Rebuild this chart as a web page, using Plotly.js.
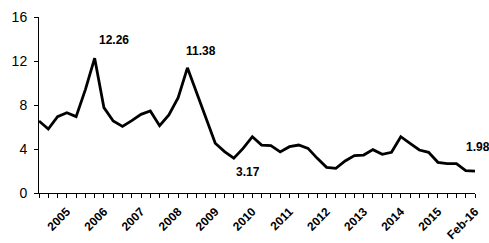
<!DOCTYPE html>
<html>
<head>
<meta charset="utf-8">
<script src="https://cdn.plot.ly/plotly-3.0.1.min.js"></script>
<style>html,body{margin:0;padding:0;background:#fff;}#chart{width:489px;height:243px;}</style>
</head>
<body>
<div id="chart"></div>
<script>
var categories = [
  "Q2-04","Q3-04","Q4-04",
  "Q1-05","Q2-05","Q3-05","Q4-05",
  "Q1-06","Q2-06","Q3-06","Q4-06",
  "Q1-07","Q2-07","Q3-07","Q4-07",
  "Q1-08","Q2-08","Q3-08","Q4-08",
  "Q1-09","Q2-09","Q3-09","Q4-09",
  "Q1-10","Q2-10","Q3-10","Q4-10",
  "Q1-11","Q2-11","Q3-11","Q4-11",
  "Q1-12","Q2-12","Q3-12","Q4-12",
  "Q1-13","Q2-13","Q3-13","Q4-13",
  "Q1-14","Q2-14","Q3-14","Q4-14",
  "Q1-15","Q2-15","Q3-15","Q4-15",
  "Feb-16"
];
var values = [
  6.55, 5.82, 6.94,
  7.30, 6.94, 9.40, 12.26,
  7.76, 6.55, 6.06, 6.58,
  7.15, 7.45, 6.12, 7.09,
  8.67, 11.38, 9.03, 6.70,
  4.52, 3.76, 3.17, 4.06,
  5.12, 4.36, 4.30, 3.73,
  4.21, 4.36, 4.06, 3.15,
  2.33, 2.24, 2.91, 3.40,
  3.45, 3.94, 3.52, 3.70,
  5.12, 4.52, 3.91, 3.70,
  2.79, 2.67, 2.67, 2.03,
  1.98
];
var tickLabels = {
  "Q1-05":"2005","Q1-06":"2006","Q1-07":"2007","Q1-08":"2008","Q1-09":"2009",
  "Q1-10":"2010","Q1-11":"2011","Q1-12":"2012","Q1-13":"2013","Q1-14":"2014",
  "Q1-15":"2015","Feb-16":"Feb-16"
};
var yTicks = [0, 4, 8, 12, 16];
var callouts = [
  {cat:"Q4-05", val:12.26, text:"12.26", dx:19, dy:18},
  {cat:"Q2-08", val:11.38, text:"11.38", dx:14, dy:17},
  {cat:"Q3-09", val:3.17, text:"3.17", dx:14, dy:-14},
  {cat:"Feb-16", val:1.98, text:"1.98", dx:3, dy:24}
];

var FONT = "Liberation Sans, Arial, sans-serif";
var ticktext = categories.map(function(c){ return tickLabels[c] || ""; });

var trace = {
  type: "scatter",
  mode: "lines",
  x: categories,
  y: values,
  line: {color: "#000000", width: 2.8},
  hoverinfo: "skip"
};

var layout = {
  width: 489, height: 243,
  margin: {l: 39, r: 14, t: 17, b: 50, pad: 0},
  paper_bgcolor: "#ffffff",
  plot_bgcolor: "#ffffff",
  showlegend: false,
  font: {family: FONT, color: "#000000"},
  xaxis: {
    type: "category",
    categoryorder: "array",
    categoryarray: categories,
    range: [0, categories.length - 1],
    tickmode: "array",
    tickvals: categories,
    ticktext: ticktext,
    tickangle: -45,
    tickfont: {family: FONT, size: 12, color: "#000000", weight: "bold"},
    ticklabelstandoff: 2,
    ticks: "outside",
    ticklen: 4,
    tickwidth: 1,
    tickcolor: "#000000",
    showline: true,
    linecolor: "#000000",
    linewidth: 1,
    showgrid: false,
    zeroline: false,
    fixedrange: true
  },
  yaxis: {
    range: [0, 16],
    tickmode: "array",
    tickvals: yTicks,
    ticktext: yTicks.map(String),
    tickfont: {family: FONT, size: 14, color: "#000000"},
    ticklabelstandoff: 4,
    ticks: "outside",
    ticklen: 4,
    tickwidth: 1,
    tickcolor: "#000000",
    showline: true,
    linecolor: "#000000",
    linewidth: 1,
    showgrid: false,
    zeroline: false,
    fixedrange: true
  },
  annotations: callouts.map(function(c){
    return {
      x: c.cat, y: c.val, xref: "x", yref: "y",
      text: c.text, showarrow: false,
      xshift: c.dx, yshift: c.dy,
      font: {family: FONT, size: 12, color: "#000000", weight: "bold"}
    };
  })
};

Plotly.newPlot("chart", [trace], layout, {displayModeBar: false, staticPlot: true});
</script>
</body>
</html>
